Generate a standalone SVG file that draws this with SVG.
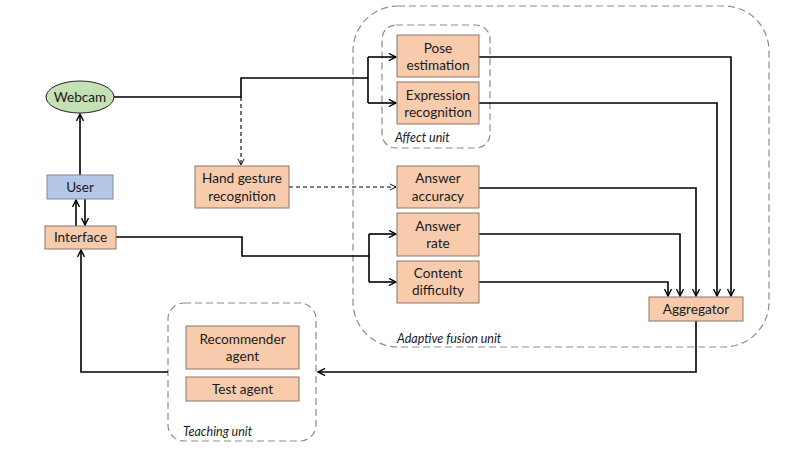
<svg xmlns="http://www.w3.org/2000/svg" width="800" height="451" viewBox="0 0 800 451">
<defs>
<style>
.box{fill:#f8cbad;stroke:#8a7668;stroke-width:1}
.t{font-family:Lato,"Open Sans",sans-serif;font-size:13.6px;fill:#1a1a1a;text-anchor:middle}
.lbl{font-family:Lato,"Open Sans",sans-serif;font-size:12.5px;font-style:italic;fill:#1a1a1a}
.unit{fill:none;stroke:#8c8c8c;stroke-width:1.2;stroke-dasharray:7,4}
.c{fill:none;stroke:#000;stroke-width:1.6}
.d{fill:none;stroke:#000;stroke-width:1.1;stroke-dasharray:4,3}
</style>
<marker id="ah" viewBox="0 0 10 10" refX="9" refY="5" markerWidth="5.5" markerHeight="5.5" orient="auto" markerUnits="strokeWidth">
<path d="M1,1 L9,5 L1,9" fill="none" stroke="#000" stroke-width="1.6"/>
</marker>
<marker id="ahd" viewBox="0 0 10 10" refX="9" refY="5" markerWidth="7" markerHeight="7" orient="auto" markerUnits="strokeWidth">
<path d="M1,1 L9,5 L1,9" fill="none" stroke="#000" stroke-width="1.2"/>
</marker>
</defs>
<rect width="800" height="451" fill="#fff"/>

<g id="adaptive-fusion-unit">
<rect class="unit" x="353" y="6" width="416" height="341" rx="45" ry="45"/>
<text class="lbl" x="397" y="343">Adaptive fusion unit</text>
</g>
<g id="affect-unit">
<rect class="unit" x="382" y="25" width="108" height="123" rx="14" ry="14"/>
<text class="lbl" x="395" y="142">Affect unit</text>
</g>
<g id="teaching-unit">
<rect class="unit" x="168" y="303" width="148" height="138" rx="16" ry="16"/>
<text class="lbl" x="183" y="436">Teaching unit</text>
</g>

<g id="connectors">
<polyline class="c" points="114,97 241,97 241,78 368,78"/>
<polyline class="c" points="368,57 368,103"/>
<line class="c" x1="368" y1="57" x2="396" y2="57" marker-end="url(#ah)"/>
<line class="c" x1="368" y1="103" x2="396" y2="103" marker-end="url(#ah)"/>
<line class="d" x1="241" y1="97" x2="241" y2="165" marker-end="url(#ahd)"/>
<line class="d" x1="289" y1="187" x2="396" y2="187" marker-end="url(#ahd)"/>
<line class="c" x1="80" y1="175" x2="80" y2="114" marker-end="url(#ah)"/>
<line class="c" x1="76" y1="226" x2="76" y2="200" marker-end="url(#ah)"/>
<line class="c" x1="85" y1="199" x2="85" y2="225" marker-end="url(#ah)"/>
<polyline class="c" points="116,237 242,237 242,256 369,256"/>
<polyline class="c" points="369,234 369,282"/>
<line class="c" x1="369" y1="234" x2="396" y2="234" marker-end="url(#ah)"/>
<line class="c" x1="369" y1="282" x2="396" y2="282" marker-end="url(#ah)"/>
<polyline class="c" points="479,57 731,57 731,296" marker-end="url(#ah)"/>
<polyline class="c" points="479,103 717,103 717,296" marker-end="url(#ah)"/>
<polyline class="c" points="479,188 696,188 696,296" marker-end="url(#ah)"/>
<polyline class="c" points="479,234 680,234 680,296" marker-end="url(#ah)"/>
<polyline class="c" points="479,282 668,282 668,296" marker-end="url(#ah)"/>
<polyline class="c" points="696,321 696,372 318,372" marker-end="url(#ah)"/>
<polyline class="c" points="168,372 81,372 81,250" marker-end="url(#ah)"/>
</g>

<g id="webcam">
<ellipse cx="80" cy="97" rx="34" ry="16" fill="#c5e0b4" stroke="#222" stroke-width="1"/>
<text class="t" x="80" y="101.5">Webcam</text>
</g>
<g id="user">
<rect x="47" y="175" width="66" height="24" fill="#b4c7e7" stroke="#7a8aa0" stroke-width="1"/>
<text class="t" x="80" y="191.5">User</text>
</g>
<g id="interface">
<rect class="box" x="45" y="226" width="71" height="23"/>
<text class="t" x="80.5" y="242">Interface</text>
</g>
<g id="hand-gesture">
<rect class="box" x="195" y="166" width="94" height="42"/>
<text class="t" x="242" y="183">Hand gesture</text>
<text class="t" x="242" y="200.5">recognition</text>
</g>
<g id="pose">
<rect class="box" x="397" y="35" width="82" height="42"/>
<text class="t" x="438" y="52.5">Pose</text>
<text class="t" x="438" y="69.5">estimation</text>
</g>
<g id="expression">
<rect class="box" x="397" y="82" width="82" height="42"/>
<text class="t" x="438" y="99.5">Expression</text>
<text class="t" x="438" y="116.5">recognition</text>
</g>
<g id="answer-accuracy">
<rect class="box" x="397" y="166" width="82" height="42"/>
<text class="t" x="438" y="183">Answer</text>
<text class="t" x="438" y="200.5">accuracy</text>
</g>
<g id="answer-rate">
<rect class="box" x="397" y="213" width="82" height="43"/>
<text class="t" x="438" y="230.5">Answer</text>
<text class="t" x="438" y="247.5">rate</text>
</g>
<g id="content-difficulty">
<rect class="box" x="397" y="261" width="82" height="42"/>
<text class="t" x="438" y="277.5">Content</text>
<text class="t" x="438" y="294.5">difficulty</text>
</g>
<g id="aggregator">
<rect class="box" x="649" y="297" width="94" height="24"/>
<text class="t" x="696" y="313.5">Aggregator</text>
</g>
<g id="recommender">
<rect class="box" x="186" y="326" width="113" height="43"/>
<text class="t" x="242.5" y="343.5">Recommender</text>
<text class="t" x="242.5" y="360.5">agent</text>
</g>
<g id="test-agent">
<rect class="box" x="186" y="377" width="113" height="24"/>
<text class="t" x="242.5" y="393.5">Test agent</text>
</g>
</svg>
